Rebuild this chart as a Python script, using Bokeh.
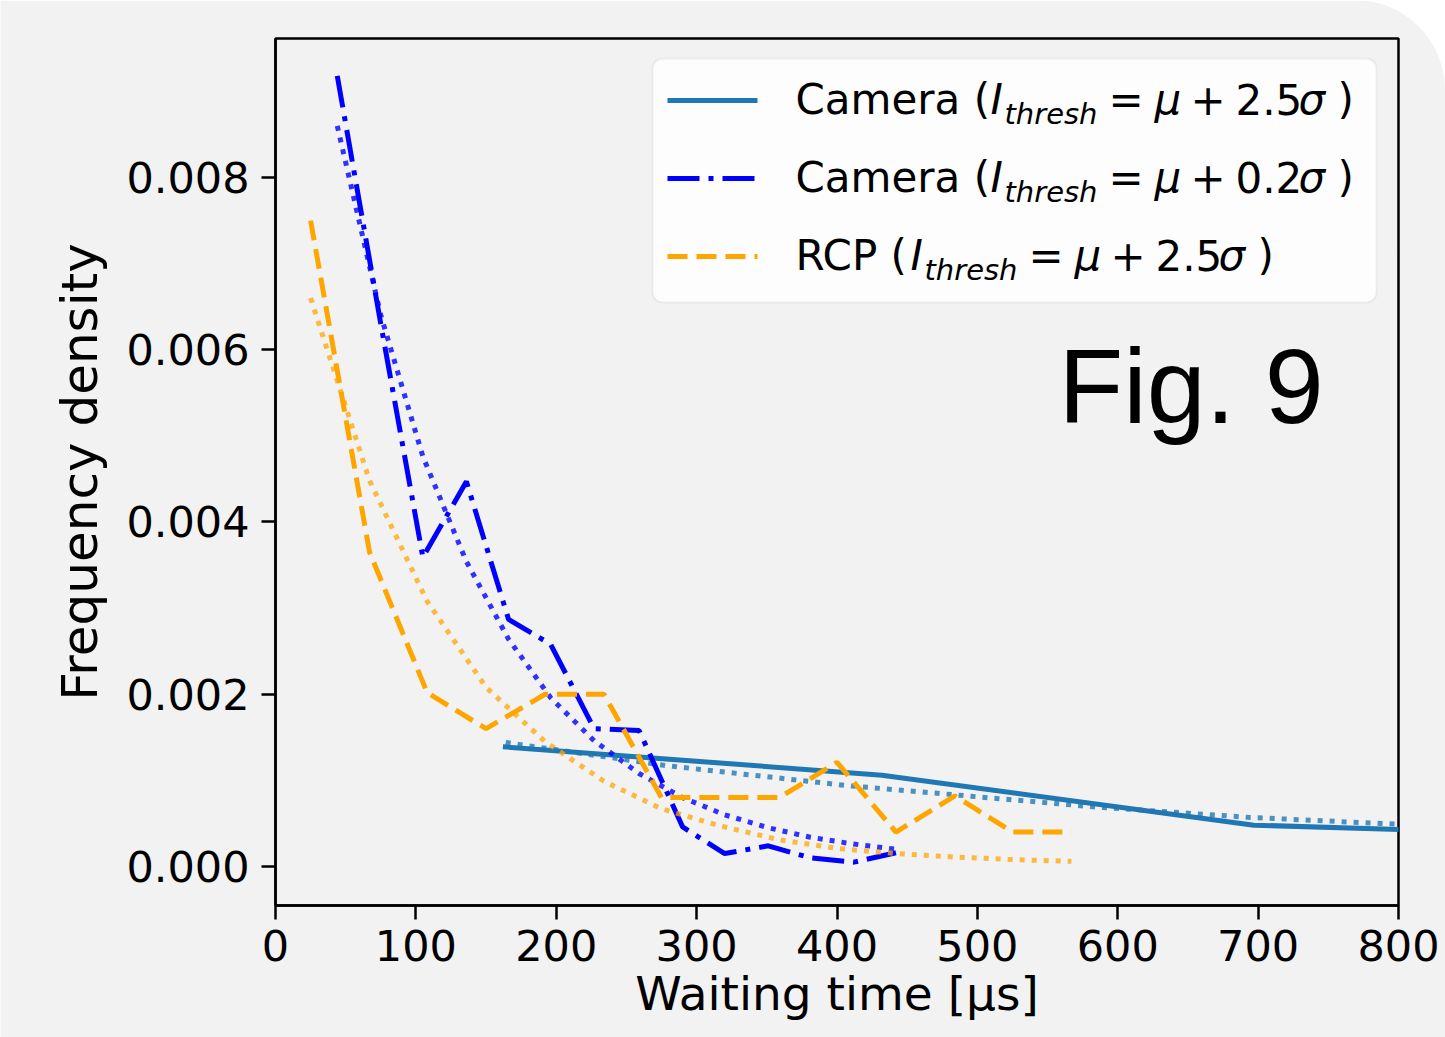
from bokeh.plotting import figure
from bokeh.models import Range1d, FixedTicker, Label, BoxAnnotation, NumeralTickFormatter
from bokeh.embed import file_html
from bokeh.resources import INLINE

# ---------------- data ----------------
# Camera, I_thresh = mu + 2.5 sigma
cam25_t = [162, 432, 697, 965]
cam25_density = [0.00139, 0.00106, 0.00048, 0.00035]
cam25_fit_t = [164, 279, 407, 585, 694, 800]
cam25_fit = [0.00144, 0.00117, 0.00094, 0.00069, 0.00057, 0.00049]

# Camera, I_thresh = mu + 0.2 sigma
cam02_t = [44, 75, 105, 136, 166, 196, 227, 259, 290, 320, 351, 381, 412, 442]
cam02_density = [0.00918, 0.00630, 0.00359, 0.00447, 0.00287, 0.00258, 0.00160,
                 0.00158, 0.00046, 0.00015, 0.00024, 0.00010, 0.00005, 0.00016]
cam02_fit = [0.00860, 0.00640, 0.00476, 0.00354, 0.00264, 0.00196, 0.00146,
             0.00108, 0.00080, 0.00060, 0.00045, 0.00034, 0.00026, 0.00020]

# RCP, I_thresh = mu + 2.5 sigma
rcp_t = [25, 67, 108, 150, 192, 234, 275, 317, 359, 400, 442, 484, 525, 567]
rcp_density = [0.00750, 0.00365, 0.00202, 0.00160, 0.00200, 0.00200, 0.00080,
               0.00080, 0.00080, 0.00121, 0.00040, 0.00082, 0.00040, 0.00040]
rcp_fit = [0.00660, 0.00448, 0.00308, 0.00208, 0.00145, 0.00099, 0.00067,
           0.00047, 0.00031, 0.00021, 0.00015, 0.00011, 0.00008, 0.00006]

x_ticks = [0, 100, 200, 300, 400, 500, 600, 700, 800]
y_ticks = [0.0, 0.002, 0.004, 0.006, 0.008]

# ---------------- layout constants ----------------
X0, X1 = 0, 800
Y0, Y1 = -0.000453, 0.009614
W, H = 1445, 1037
FL, FT, FR, FB = 275, 38, 47, 132          # frame borders inside the canvas
FRAME_L, FRAME_T = FL, FT
FRAME_W, FRAME_H = W - FL - FR, H - FT - FB
BASE_FIX = 0.37                            # baseline correction (fraction of font size)


def px_x(px):
    return X0 + (px - FRAME_L) / FRAME_W * (X1 - X0)


def py_y(py):
    return Y1 - (py - FRAME_T) / FRAME_H * (Y1 - Y0)


def base_y(py, size):
    return py_y(py - BASE_FIX * size)


BG = "#f2f2f2"
C_CAM25 = "#1f77b4"
C_CAM02 = "#0000ff"
C_RCP = "#ffa500"
FONT = "DejaVu Sans"

p = figure(width=W, height=H, x_range=Range1d(X0, X1), y_range=Range1d(Y0, Y1),
           output_backend="svg", toolbar_location=None,
           min_border_left=FL, min_border_right=FR, min_border_top=FT, min_border_bottom=FB,
           background_fill_color=BG, border_fill_color=BG)
p.styles = {"border-radius": "0 90px 0 0", "overflow": "hidden"}
p.grid.visible = False
p.outline_line_color = "black"
p.outline_line_width = 2.5
p.outline_line_alpha = 1

for ax in (p.xaxis[0], p.yaxis[0]):
    ax.axis_line_color = "black"
    ax.axis_line_width = 2.5
    ax.major_tick_line_color = "black"
    ax.major_tick_line_width = 2.5
    ax.major_tick_in = 0
    ax.major_tick_out = 14
    ax.minor_tick_line_color = None
    ax.major_label_text_font = FONT
    ax.major_label_text_font_size = "43px"
    ax.major_label_text_color = "black"
    ax.axis_label_text_font = FONT
    ax.axis_label_text_font_style = "normal"
    ax.axis_label_text_color = "black"

p.xaxis.ticker = FixedTicker(ticks=x_ticks)
p.xaxis.major_label_standoff = 10
p.xaxis.axis_label = "Waiting time [μs]"
p.xaxis.axis_label_text_font_size = "47px"
p.xaxis.axis_label_standoff = 2

p.yaxis.ticker = FixedTicker(ticks=y_ticks)
p.yaxis.formatter = NumeralTickFormatter(format="0.000")
p.yaxis.major_label_standoff = 12
p.yaxis.axis_label = "Frequency density"
p.yaxis.axis_label_text_font_size = "50px"
p.yaxis.axis_label_standoff = 14

# ---------------- series ----------------
LW = 5
p.line(cam25_t, cam25_density, line_color=C_CAM25, line_width=LW)
p.line(cam25_fit_t, cam25_fit, line_color=C_CAM25, line_width=LW, line_dash="5 7", line_alpha=0.8)
p.line(cam02_t, cam02_density, line_color=C_CAM02, line_width=LW, line_dash="32 9 5 9")
p.line(cam02_t, cam02_fit, line_color=C_CAM02, line_width=LW, line_dash="5 7", line_alpha=0.8)
p.line(rcp_t, rcp_density, line_color=C_RCP, line_width=LW, line_dash="20 9")
p.line(rcp_t, rcp_fit, line_color=C_RCP, line_width=LW, line_dash="5 7", line_alpha=0.75)

# ---------------- legend (drawn by hand for the math labels) ----------------
p.add_layout(BoxAnnotation(left=px_x(652), right=px_x(1376), top=py_y(58), bottom=py_y(302),
                           fill_color="white", fill_alpha=0.85, line_color="#cccccc",
                           line_width=2, border_radius=10, level="underlay"))

rows = [
    dict(cy=100, color=C_CAM25, dash="solid", head="Camera (", num="2.5", shift=0),
    dict(cy=178, color=C_CAM02, dash="32 9 5 9", head="Camera (", num="0.2", shift=0),
    dict(cy=256, color=C_RCP, dash="20 9", head="RCP (", num="2.5", shift=-80),
]
for r in rows:
    yc = py_y(r["cy"])
    p.line([px_x(667), px_x(757)], [yc, yc], line_color=r["color"], line_width=LW,
           line_dash=r["dash"])
    s = r["shift"]
    pieces = [
        (r["head"], 795, "normal", 42, 0, 0),
        ("I", 990, "italic", 42, 0, s),
        ("thresh", 1004, "italic", 29, 9, s),
        ("=", 1108, "normal", 42, 0, s),
        ("μ", 1154, "italic", 42, 0, s),
        ("+", 1190, "normal", 42, 0, s),
        (r["num"], 1235, "normal", 42, 0, s),
        ("σ", 1298, "italic", 42, 0, s),
        (")", 1337, "normal", 42, 0, s),
    ]
    for txt, px, style, size, drop, sh in pieces:
        p.add_layout(Label(x=px_x(px + sh), y=base_y(r["cy"] + 15 + drop, size), text=txt,
                           text_font=FONT, text_font_style=style,
                           text_font_size=f"{size}px", text_color="black",
                           text_align="left", text_baseline="alphabetic"))

# ---------------- other texts ----------------
p.add_layout(Label(x=px_x(1058), y=base_y(425, 106), text="Fig. 9", text_font="Liberation Sans",
                   text_font_size="106px", text_color="black", text_align="left",
                   text_baseline="alphabetic"))

open("out.html", "w").write(file_html(p, INLINE))
